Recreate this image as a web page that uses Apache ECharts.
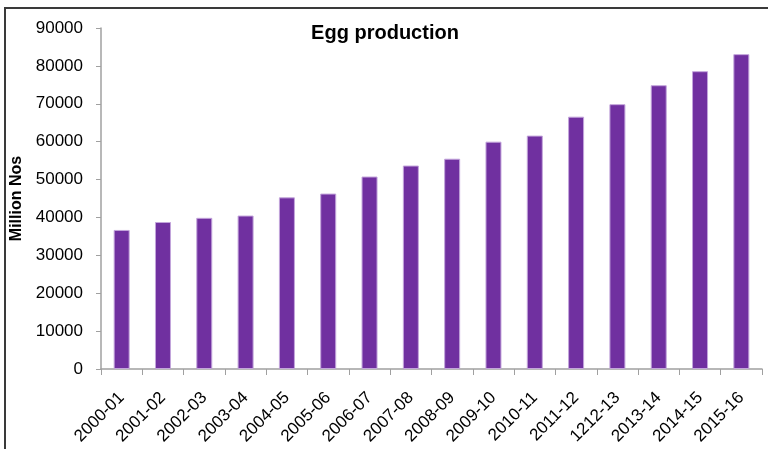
<!DOCTYPE html>
<html>
<head>
<meta charset="utf-8">
<script src="https://cdn.jsdelivr.net/npm/echarts@6/dist/echarts.min.js"></script>
<style>
  html, body { margin: 0; padding: 0; background: #fff; }
  #main { width: 768px; height: 449px; }
</style>
</head>
<body>
<div id="main"></div>
<script>
// years on the x axis
var years = ['2000-01', '2001-02', '2002-03', '2003-04', '2004-05', '2005-06', '2006-07', '2007-08',
  '2008-09', '2009-10', '2010-11', '2011-12', '1212-13', '2013-14', '2014-15', '2015-16'];
// egg production, million nos
var eggs = [36700, 38800, 39900, 40500, 45300, 46300, 50800, 53700,
  55500, 60000, 61600, 66600, 69900, 74900, 78600, 83100];
var yTicks = { min: 0, max: 90000, step: 10000 };

var chart = echarts.init(document.getElementById('main'), null, { renderer: 'canvas' });
var font = 'Liberation Sans';

var option = {
  backgroundColor: '#fff',
  animation: false,
  title: {
    text: 'Egg production',
    left: 380,
    top: 18,
    textAlign: 'center',
    textStyle: { fontFamily: font, fontSize: 20, fontWeight: 'bold', color: '#000' }
  },
  // outer chart frame (left + top edges only visible)
  graphic: [{
    type: 'rect',
    shape: { x: 5, y: 8, width: 900, height: 600 },
    style: { fill: 'none', stroke: '#3a3a3a', lineWidth: 2 },
    silent: true
  }],
  grid: { left: 101, right: 6, top: 28, bottom: 80 },
  xAxis: {
    type: 'category',
    data: years,
    axisLine: { lineStyle: { color: '#a0a0a0', width: 1.5 } },
    axisTick: { show: true, length: 6, lineStyle: { color: '#a0a0a0' } },
    axisLabel: {
      rotate: 45,
      margin: 26,
      interval: 0,
      color: '#000',
      fontFamily: font,
      fontSize: 17
    }
  },
  yAxis: {
    type: 'value',
    min: yTicks.min,
    max: yTicks.max,
    interval: yTicks.step,
    name: 'Million Nos',
    nameLocation: 'middle',
    nameGap: 72,
    nameTextStyle: { fontFamily: font, fontSize: 16, fontWeight: 'bold', color: '#000' },
    splitLine: { show: false },
    axisLine: { show: true, lineStyle: { color: '#a0a0a0', width: 1.5 } },
    axisTick: { show: true, length: 5, lineStyle: { color: '#a0a0a0' } },
    axisLabel: {
      margin: 18, color: '#000', fontFamily: font, fontSize: 17,
      formatter: function (v) { return String(v); }
    }
  },
  series: [{
    name: 'Egg production',
    type: 'bar',
    data: eggs,
    barWidth: 16,
    itemStyle: { color: '#7030a0', borderColor: '#c3a5db', borderWidth: 1 }
  }]
};
chart.setOption(option);
</script>
</body>
</html>
